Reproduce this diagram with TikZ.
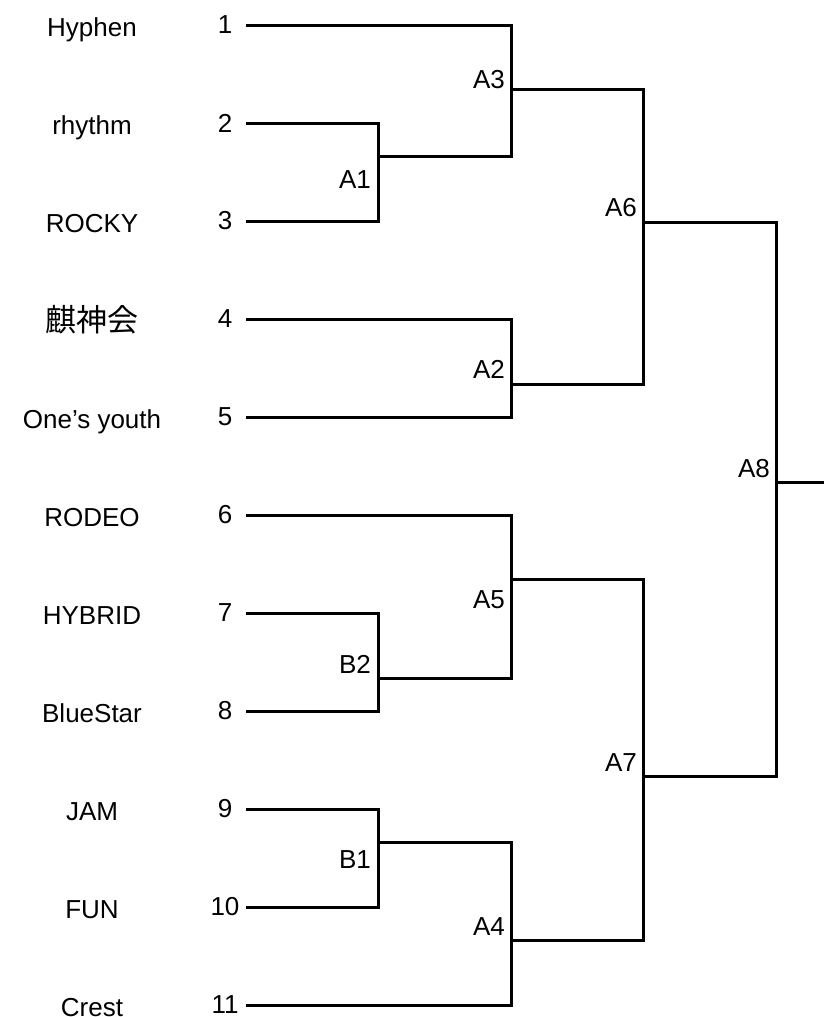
\documentclass[tikz,border=0pt]{standalone}
\usepackage{fontspec}
\setmainfont{Liberation Sans}
\newfontfamily\jpfont{Noto Sans CJK JP}
\tikzset{team/.style = {font=\fontsize{26}{30}\selectfont, inner sep=0pt, anchor=base}}
\tikzset{seed/.style = {font=\fontsize{26}{30}\selectfont, inner sep=0pt, minimum width=42pt}}
\tikzset{match/.style = {font=\fontsize{26}{30}\selectfont, inner sep=0pt, anchor=base east}}
\tikzset{bracket/.style = {line width=3pt, line join=miter}}

\begin{document}
\begin{tikzpicture}[x=1pt, y=-1pt]
  \useasboundingbox (0,0) rectangle (824,1017);

  % teams
  \node[team] (t1) at (92, 36) {Hyphen};
  \node[team] (t2) at (92, 134) {rhythm};
  \node[team] (t3) at (92, 232) {ROCKY};
  \node[team, font=\jpfont\fontsize{31}{36}\selectfont] (t4) at (92, 331) {麒神会};
  \node[team] (t5) at (92, 428) {One’s youth};
  \node[team] (t6) at (92, 526) {RODEO};
  \node[team] (t7) at (92, 624) {HYBRID};
  \node[team] (t8) at (92, 722) {BlueStar};
  \node[team] (t9) at (92, 820) {JAM};
  \node[team] (t10) at (92, 918) {FUN};
  \node[team] (t11) at (92, 1016) {Crest};

  % seeds, the lines start at their east side
  \node[seed] (n1) at (225, 25) {1};
  \node[seed] (n2) at (225, 123) {2};
  \node[seed] (n3) at (225, 221) {3};
  \node[seed] (n4) at (225, 319) {4};
  \node[seed] (n5) at (225, 417) {5};
  \node[seed] (n6) at (225, 515) {6};
  \node[seed] (n7) at (225, 613) {7};
  \node[seed] (n8) at (225, 711) {8};
  \node[seed] (n9) at (225, 809) {9};
  \node[seed] (n10) at (225, 907) {10};
  \node[seed] (n11) at (225, 1005) {11};

  % matches
  \coordinate (A1) at (378, 156);
  \coordinate (B2) at (378, 678);
  \coordinate (B1) at (378, 842);
  \coordinate (A3) at (511, 89);
  \coordinate (A2) at (511, 384);
  \coordinate (A5) at (511, 579);
  \coordinate (A4) at (511, 940);
  \coordinate (A6) at (643, 222);
  \coordinate (A7) at (643, 776);
  \coordinate (A8) at (776, 482);
  \coordinate (win) at (824, 482);

  \node[match] (lA1) at (371, 188) {A1};
  \node[match] (lB2) at (371, 673) {B2};
  \node[match] (lB1) at (371, 868) {B1};
  \node[match] (lA3) at (505, 88) {A3};
  \node[match] (lA2) at (505, 378) {A2};
  \node[match] (lA5) at (505, 608) {A5};
  \node[match] (lA4) at (505, 935) {A4};
  \node[match] (lA6) at (637, 216) {A6};
  \node[match] (lA7) at (637, 771) {A7};
  \node[match] (lA8) at (770, 477) {A8};

  \draw[bracket] (n2.east) -| (A1) |- (n3.east);
  \draw[bracket] (n7.east) -| (B2) |- (n8.east);
  \draw[bracket] (n9.east) -| (B1) |- (n10.east);
  \draw[bracket] (n1.east) -| (A3) |- (A1);
  \draw[bracket] (n4.east) -| (A2) |- (n5.east);
  \draw[bracket] (n6.east) -| (A5) |- (B2);
  \draw[bracket] (B1) -| (A4) |- (n11.east);
  \draw[bracket] (A3) -| (A6) |- (A2);
  \draw[bracket] (A5) -| (A7) |- (A4);
  \draw[bracket] (A6) -| (A8) |- (A7);
  \draw[bracket] (A8) -- (win);
\end{tikzpicture}
\end{document}
